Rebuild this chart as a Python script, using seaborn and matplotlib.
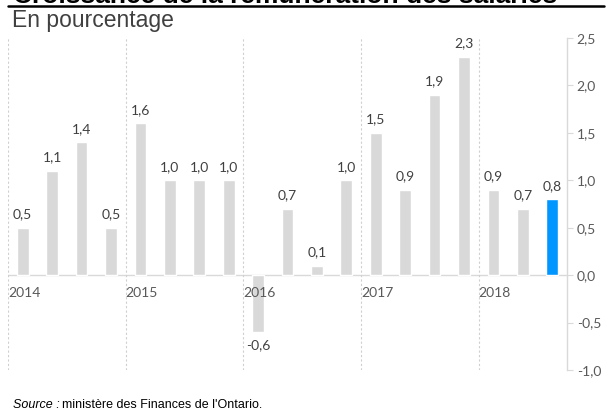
import matplotlib
matplotlib.use("Agg")
import matplotlib.pyplot as plt
import seaborn as sns
import pandas as pd

# Données trimestrielles (croissance en %)
trimestres = ["2014T1", "2014T2", "2014T3", "2014T4",
              "2015T1", "2015T2", "2015T3", "2015T4",
              "2016T1", "2016T2", "2016T3", "2016T4",
              "2017T1", "2017T2", "2017T3", "2017T4",
              "2018T1", "2018T2", "2018T3"]
valeurs = [0.5, 1.1, 1.4, 0.5,
           1.6, 1.0, 1.0, 1.0,
           -0.6, 0.7, 0.1, 1.0,
           1.5, 0.9, 1.9, 2.3,
           0.9, 0.7, 0.8]
annees = ["2014", "2015", "2016", "2017", "2018"]
yticks = [-1.0, -0.5, 0.0, 0.5, 1.0, 1.5, 2.0, 2.5]

df = pd.DataFrame({"trimestre": trimestres, "valeur": valeurs})
couleurs = {t: "#d9d9d9" for t in trimestres}
couleurs[trimestres[-1]] = "#0096ff"

sns.set_style("white")
plt.rcParams["font.family"] = ["Lato", "DejaVu Sans"]

fig = plt.figure(figsize=(6.06, 4.13), dpi=100)
ax = fig.add_axes([8 / 606, 43 / 413, 559 / 606, 332 / 413])

sns.barplot(data=df, x="trimestre", y="valeur", hue="trimestre", palette=couleurs,
            width=0.4, saturation=1, legend=False, ax=ax, order=trimestres)

ax.set_xlim(-0.5, 18.5)
ax.set_ylim(-1.0, 2.5)
ax.set_xlabel("")
ax.set_ylabel("")
ax.set_xticks([])

# axe de droite
ax.yaxis.tick_right()
ax.set_yticks(yticks)
ax.set_yticklabels([f"{v:.1f}".replace(".", ",") for v in yticks])
ax.tick_params(axis="y", right=True, length=4, width=0.8, color="#d9d9d9",
               labelsize=10, labelcolor="#595959", pad=3)
for s in ["top", "left", "bottom"]:
    ax.spines[s].set_visible(False)
ax.spines["right"].set_color("#d9d9d9")
ax.spines["right"].set_linewidth(1)

# ligne zéro
ax.axhline(0, color="#d9d9d9", lw=1, zorder=0)

# séparateurs d'années et étiquettes
for i, a in enumerate(annees):
    xpos = i * 4 - 0.5
    ax.axvline(xpos, color="#cfcfcf", lw=0.8, ls=(0, (2, 2)), zorder=0)
    ax.text(xpos, -0.12, a, ha="left", va="top", fontsize=10, color="#595959")

# étiquettes de données
for i, v in enumerate(valeurs):
    lab = f"{v:.1f}".replace(".", ",")
    if v >= 0:
        ax.text(i, v + 0.08, lab, ha="center", va="bottom", fontsize=10, color="#404040")
    else:
        ax.text(i, v - 0.08, lab, ha="center", va="top", fontsize=10, color="#404040")

# titre (coupé en haut, comme dans l'original) et sous-titre
fig.text(13 / 606, 1 - 3 / 413, "Croissance de la rémunération des salariés",
         ha="left", va="baseline", fontsize=19, fontweight="bold",
         family="Liberation Sans", color="black")
fig.add_artist(plt.Line2D([8 / 606, 604 / 606], [1 - 6 / 413, 1 - 6 / 413],
                          color="black", lw=1.8))
fig.text(12 / 606, 1 - 27 / 413, "En pourcentage", ha="left", va="baseline",
         fontsize=16.5, family="Liberation Sans", color="#404040")

# source
fig.text(13 / 606, 5 / 413, "Source :", ha="left", va="baseline", fontsize=9,
         style="italic", family="Liberation Sans", color="black")
fig.text(62 / 606, 5 / 413, "ministère des Finances de l'Ontario.", ha="left",
         va="baseline", fontsize=9, family="Liberation Sans", color="black")

fig.savefig("out.png", dpi=100)
